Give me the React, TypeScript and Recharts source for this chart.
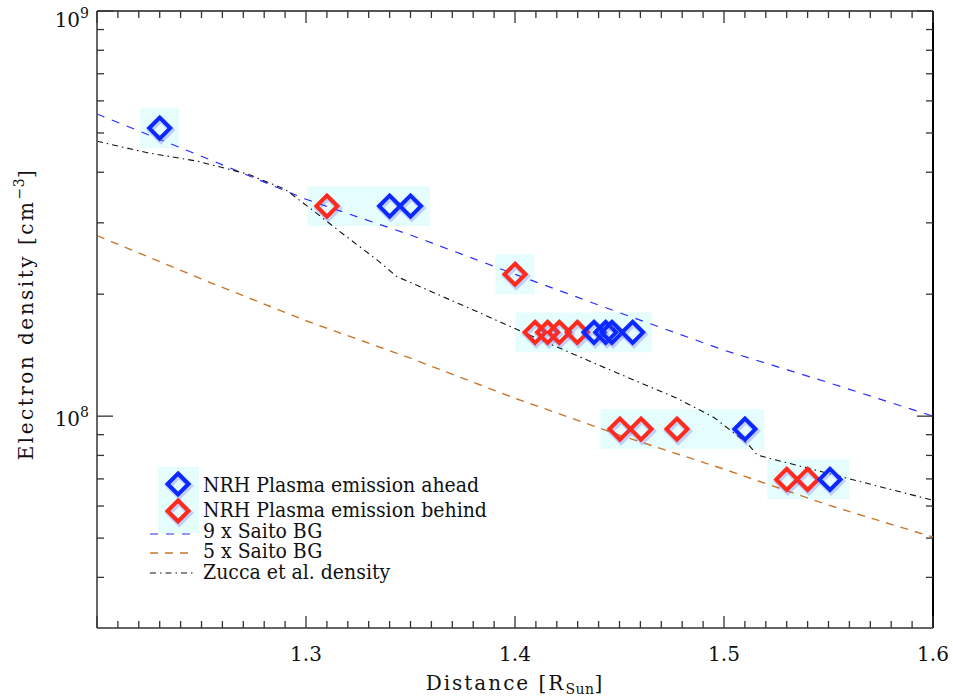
import React from 'react';
import {
  ComposedChart,
  Scatter,
  Line,
  XAxis,
  YAxis,
  ReferenceArea,
  ReferenceLine,
  Legend,
} from 'recharts';

// chart geometry (page margin removed, so the chart fills the window)
const W = 953;
const H = 696;
const MARGIN = { top: 11, right: 20, bottom: 0, left: 0 };
const Y_AXIS_W = 97;
const X_AXIS_H = 68;
const PLOT_W = W - MARGIN.left - MARGIN.right - Y_AXIS_W;
const PLOT_H = H - MARGIN.top - MARGIN.bottom - X_AXIS_H;

const BLUE = '#0a28ff';
const RED = '#ff2a1a';
const SAITO9_COLOR = '#2a2aff';
const SAITO5_COLOR = '#c8762c';
const ZUCCA_COLOR = '#111111';
const BOX_FILL = '#e6fdfd';
const AXIS_FONT = '"DejaVu Serif", serif';
const LEGEND_FONT = '"DejaVu Serif Condensed", "DejaVu Serif", serif';

// NRH plasma emission sources (distance in R_sun, density in cm^-3)
const aheadX = [1.23, 1.34, 1.35, 1.4378, 1.4434, 1.4464, 1.4563, 1.51, 1.5507];
const aheadY = [5.14e8, 3.3e8, 3.3e8, 1.61e8, 1.61e8, 1.61e8, 1.61e8, 9.29e7, 6.98e7];
const behindX = [1.31, 1.4, 1.4096, 1.4156, 1.4212, 1.4298, 1.4502, 1.4603, 1.4775, 1.53, 1.54];
const behindY = [3.3e8, 2.24e8, 1.61e8, 1.61e8, 1.61e8, 1.61e8, 9.29e7, 9.29e7, 9.29e7, 6.98e7, 6.98e7];

// background density models
const saitoX = [1.2, 1.25, 1.3, 1.35, 1.4, 1.45, 1.5, 1.55, 1.6];
const saito9Y = [5.57e8, 4.38e8, 3.43e8, 2.8e8, 2.24e8, 1.8e8, 1.455e8, 1.21e8, 1.0e8];
const saito5Y = [2.79e8, 2.18e8, 1.72e8, 1.39e8, 1.107e8, 8.98e7, 7.4e7, 6.03e7, 5.03e7];
const zuccaX = [1.2, 1.224, 1.248, 1.272, 1.29, 1.302, 1.316, 1.334, 1.3435, 1.359, 1.383, 1.404, 1.444, 1.4775, 1.495, 1.511, 1.516, 1.6];
const zuccaY = [4.77e8, 4.47e8, 4.26e8, 3.96e8, 3.63e8, 3.26e8, 2.86e8, 2.43e8, 2.21e8, 2.04e8, 1.8e8, 1.61e8, 1.31e8, 1.107e8, 9.94e7, 8.58e7, 8.01e7, 6.2e7];

// axis ticks
const xTicks = Array.from({ length: 41 }, (_, i) => +(1.2 + i * 0.01).toFixed(2));
const yTicks = [4e7, 5e7, 6e7, 7e7, 8e7, 9e7, 1e8, 2e8, 3e8, 4e8, 5e8, 6e8, 7e8, 8e8, 9e8, 1e9];

const toPoints = (xs: number[], ys: number[]) => xs.map((x, i) => ({ x, y: ys[i] }));
const aheadPts = toPoints(aheadX, aheadY);
const behindPts = toPoints(behindX, behindY);
const saito9 = toPoints(saitoX, saito9Y);
const saito5 = toPoints(saitoX, saito5Y);
const zucca = toPoints(zuccaX, zuccaY);

// shaded box behind each observation time (points sharing one density)
const BOX_PAD_X = 0.0093;
const BOX_PAD_Y = 1.12;
const groupBoxes = (() => {
  const all = [...aheadPts, ...behindPts];
  const levels = Array.from(new Set(all.map((p) => p.y)));
  return levels.map((y) => {
    const xs = all.filter((p) => p.y === y).map((p) => p.x);
    return { y, xMin: Math.min(...xs), xMax: Math.max(...xs) };
  });
})();

function Diamond({ cx, cy, color, r = 10.5 }: { cx: number; cy: number; color: string; r?: number }) {
  const d = `M${cx},${cy - r} L${cx + r},${cy} L${cx},${cy + r} L${cx - r},${cy} Z`;
  return (
    <g>
      <path d={d} transform="translate(1.2,1.8)" fill="none" stroke="#5a5aff" strokeOpacity={0.28} strokeWidth={6} />
      <path d={d} fill="none" stroke={color} strokeWidth={4} />
    </g>
  );
}

function XTick(props: any) {
  const { x, y, payload } = props;
  const v = payload.value as number;
  const major = Math.abs(v * 10 - Math.round(v * 10)) < 1e-6;
  const len = major ? 12 : 7;
  const top = y - PLOT_H;
  return (
    <g>
      <line x1={x} x2={x} y1={y} y2={y - len} stroke="#333" strokeWidth={1.3} />
      <line x1={x} x2={x} y1={top} y2={top + len} stroke="#333" strokeWidth={1.3} />
      {major && v > 1.2001 && (
        <text x={x} y={y + 33} textAnchor="middle" fontFamily={AXIS_FONT} fontSize={20} fill="#111">
          {v.toFixed(1)}
        </text>
      )}
    </g>
  );
}

function YTick(props: any) {
  const { x, y, payload } = props;
  const v = payload.value as number;
  const exp = Math.log10(v);
  const major = Math.abs(exp - Math.round(exp)) < 1e-9;
  const len = major ? 16 : 7;
  const right = x + PLOT_W;
  return (
    <g>
      <line x1={x} x2={x + len} y1={y} y2={y} stroke="#333" strokeWidth={1.3} />
      <line x1={right} x2={right - len} y1={y} y2={y} stroke="#333" strokeWidth={1.3} />
      {major && (
        <text x={x - 8} y={Math.max(y + 10, 27)} textAnchor="end" fontFamily={AXIS_FONT} fontSize={20} fill="#111">
          10
          <tspan dy={-9} fontSize={14}>
            {Math.round(exp)}
          </tspan>
        </text>
      )}
    </g>
  );
}

function renderLegend() {
  const textProps = { fontFamily: LEGEND_FONT, fontSize: 21, fill: '#111' };
  return (
    <svg width={360} height={130} style={{ overflow: 'visible' }}>
      <rect x={10} y={4} width={41} height={66} fill={BOX_FILL} />
      <Diamond cx={30} cy={21} color={BLUE} />
      <Diamond cx={30} cy={48} color={RED} />
      <text x={55} y={29} {...textProps}>NRH Plasma emission ahead</text>
      <text x={55} y={54} {...textProps}>NRH Plasma emission behind</text>
      <line x1={2} x2={45} y1={71} y2={71} stroke={SAITO9_COLOR} strokeWidth={1.2} strokeDasharray="8 8" />
      <text x={55} y={75} {...textProps}>9 x Saito BG</text>
      <line x1={2} x2={45} y1={90} y2={90} stroke={SAITO5_COLOR} strokeWidth={1.4} strokeDasharray="8 7" />
      <text x={55} y={95} {...textProps}>5 x Saito BG</text>
      <line x1={2} x2={45} y1={110} y2={110} stroke={ZUCCA_COLOR} strokeWidth={1.1} strokeDasharray="6 4 1.5 4" />
      <text x={55} y={116} {...textProps}>Zucca et al. density</text>
    </svg>
  );
}

export default function App() {
  return (
    <div style={{ width: W, height: H, background: '#fff' }}>
      <style>{'body { margin: 0; overflow: hidden; }'}</style>
      <ComposedChart width={W} height={H} margin={MARGIN}>
        <XAxis
          dataKey="x"
          type="number"
          domain={[1.2, 1.6]}
          allowDataOverflow
          ticks={xTicks}
          interval={0}
          tickSize={0}
          tickMargin={0}
          tickLine={false}
          tick={<XTick />}
          height={X_AXIS_H}
          axisLine={{ stroke: '#666', strokeWidth: 2 }}
          label={{
            content: () => (
              <text x={515} y={690} textAnchor="middle" fontFamily={AXIS_FONT} fontSize={20} letterSpacing={2} fill="#111">
                Distance [R
                <tspan dy={4} fontSize={14} letterSpacing={0.5}>Sun</tspan>
                <tspan dy={-4}>]</tspan>
              </text>
            ),
          }}
        />
        <YAxis
          dataKey="y"
          type="number"
          scale="log"
          domain={[3e7, 1e9]}
          allowDataOverflow
          ticks={yTicks}
          interval={0}
          tickSize={0}
          tickMargin={0}
          tickLine={false}
          tick={<YTick />}
          width={Y_AXIS_W}
          axisLine={{ stroke: '#666', strokeWidth: 2 }}
          label={{
            content: () => (
              <text
                x={33}
                y={314}
                transform="rotate(-90 33 314)"
                textAnchor="middle"
                fontFamily={AXIS_FONT}
                fontSize={20}
                letterSpacing={2.5}
                fill="#111"
              >
                Electron density [cm
                <tspan dy={-9} fontSize={14} letterSpacing={0.5}>−3</tspan>
                <tspan dy={9}>]</tspan>
              </text>
            ),
          }}
        />
        {groupBoxes.map((g, i) => (
          <ReferenceArea
            key={i}
            x1={g.xMin - BOX_PAD_X}
            x2={g.xMax + BOX_PAD_X}
            y1={g.y / BOX_PAD_Y}
            y2={g.y * BOX_PAD_Y}
            fill={BOX_FILL}
            fillOpacity={1}
            stroke="none"
            ifOverflow="visible"
          />
        ))}
        <ReferenceLine y={1e9} stroke="#555" strokeWidth={2} />
        <ReferenceLine x={1.6} stroke="#000" strokeWidth={2} />
        <Line
          data={saito9}
          dataKey="y"
          name="9 x Saito BG"
          type="linear"
          stroke={SAITO9_COLOR}
          strokeWidth={1.2}
          strokeDasharray="8 8"
          dot={false}
          activeDot={false}
          isAnimationActive={false}
        />
        <Line
          data={saito5}
          dataKey="y"
          name="5 x Saito BG"
          type="linear"
          stroke={SAITO5_COLOR}
          strokeWidth={1.4}
          strokeDasharray="8 7"
          dot={false}
          activeDot={false}
          isAnimationActive={false}
        />
        <Line
          data={zucca}
          dataKey="y"
          name="Zucca et al. density"
          type="linear"
          stroke={ZUCCA_COLOR}
          strokeWidth={1.1}
          strokeDasharray="6 4 1.5 4"
          dot={false}
          activeDot={false}
          isAnimationActive={false}
        />
        <Scatter
          data={behindPts}
          name="NRH Plasma emission behind"
          fill={RED}
          shape={(p: any) => <Diamond cx={p.cx} cy={p.cy} color={RED} />}
          isAnimationActive={false}
        />
        <Scatter
          data={aheadPts}
          name="NRH Plasma emission ahead"
          fill={BLUE}
          shape={(p: any) => <Diamond cx={p.cx} cy={p.cy} color={BLUE} />}
          isAnimationActive={false}
        />
        <Legend
          layout="horizontal"
          verticalAlign="middle"
          align="center"
          content={renderLegend}
          wrapperStyle={{ position: 'absolute', left: 148, top: 463, width: 360, height: 130 }}
        />
      </ComposedChart>
    </div>
  );
}
